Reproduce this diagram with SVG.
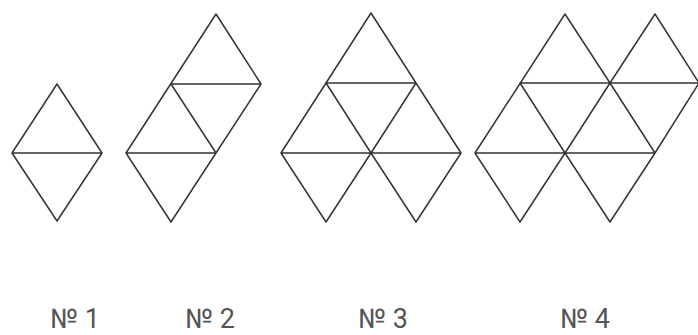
<svg xmlns="http://www.w3.org/2000/svg" width="698" height="335" viewBox="0 0 698 335">
<style>
.e{stroke:#333;stroke-width:1.5;fill:none;stroke-linejoin:round;stroke-linecap:round}
.t{font-family:Roboto,"Liberation Sans",sans-serif;font-size:27px;fill:#555;text-anchor:middle}
</style>
<rect width="698" height="335" fill="#fff"/>
<g id="fig1">
<path class="e" d="M57,84 L12,153 L57,221 L102,153 Z M12,153 H102"/>
</g>
<g id="fig2">
<path class="e" d="M216,14 L126,153 L171,222 L261,84 Z M171,84 H261 M126,153 H216 M171,84 L216,153"/>
</g>
<g id="fig3">
<path class="e" d="M371,13 L281,153 L326,222 L371,153 L416,222 L461,153 Z M326,83 H416 M281,153 H461 M326,83 L371,153 L416,83"/>
</g>
<g id="fig4">
<path class="e" d="M475,153 L565,14 L610,83 L655,14 L699,83 L655,153 L610,222 L565,153 L520,222 Z M520,83 H699 M475,153 H655 M520,83 L565,153 L610,83 L655,153"/>
</g>
<g id="labels">
<text class="t" x="75" y="328">№ 1</text>
<text class="t" x="210" y="328">№ 2</text>
<text class="t" x="383" y="328">№ 3</text>
<text class="t" x="585" y="328">№ 4</text>
</g>
</svg>
